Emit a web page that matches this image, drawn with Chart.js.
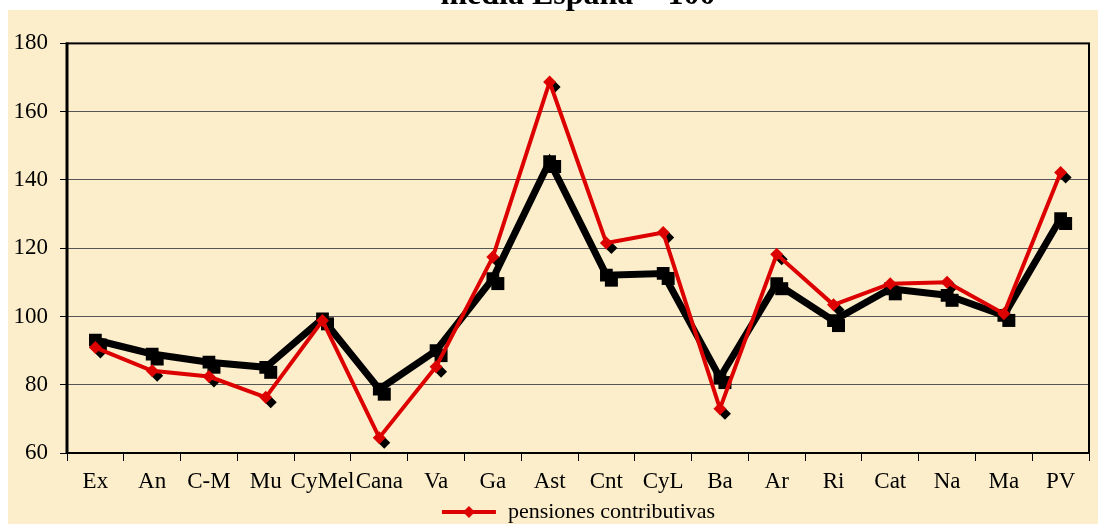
<!DOCTYPE html>
<html>
<head>
<meta charset="utf-8">
<script src="https://cdn.jsdelivr.net/npm/chart.js@4"></script>
<style>
    html, body { margin: 0; padding: 0; background: #fff; overflow: hidden; }
    #wrap { position: absolute; left: 0; top: -30px; width: 1098px; height: 563px; }
</style>
</head>
<body>
<div id="wrap"><canvas id="lineChart"></canvas></div>
<script>
// data (media España = 100)
const categories = ['Ex', 'An', 'C-M', 'Mu', 'CyMel', 'Cana', 'Va', 'Ga', 'Ast', 'Cnt', 'CyL', 'Ba', 'Ar', 'Ri', 'Cat', 'Na', 'Ma', 'PV'];
const pensionesContributivas = [90.9, 84.1, 82.4, 76.3, 98.8, 64.5, 85.3, 117.4, 168.7, 121.5, 124.6, 73.0, 118.2, 103.4, 109.6, 110.0, 100.8, 142.2];
const otraSerie = [93.1, 89.0, 86.6, 85.1, 99.3, 78.7, 90.0, 111.1, 145.4, 112.1, 112.6, 82.1, 109.6, 98.8, 108.1, 106.2, 100.3, 128.7];
const yTicks = [60, 80, 100, 120, 140, 160, 180];

const RED = '#DD0000';
const BEIGE = '#FCEECB';
const FONT = '"Liberation Serif", "Times New Roman", serif';

// legend symbol: line with a diamond in the middle
function legendSymbol() {
    let c = document.createElement('canvas');
    c.width = 56; c.height = 14;
    let g = c.getContext('2d');
    g.strokeStyle = RED; g.lineWidth = 4;
    g.beginPath(); g.moveTo(1, 7); g.lineTo(55, 7); g.stroke();
    g.fillStyle = RED;
    g.beginPath(); g.moveTo(28, 1); g.lineTo(34, 7); g.lineTo(28, 13); g.lineTo(22, 7); g.closePath(); g.fill();
    return c;
}

const background = {
    id: 'background',
    beforeDraw(chart) {
        let ctx = chart.ctx;
        ctx.save();
        ctx.fillStyle = '#fff';
        ctx.fillRect(0, 0, chart.width, chart.height);
        ctx.fillStyle = BEIGE;
        ctx.fillRect(8, 40, chart.width - 8, chart.height - 40);
        ctx.restore();
    }
};

// black drop shadows under the markers
const markerShadow = {
    id: 'markerShadow',
    beforeDatasetsDraw(chart) {
        let ctx = chart.ctx;
        ctx.save();
        ctx.fillStyle = '#000';
        chart.data.datasets.forEach((ds, i) => {
            let meta = chart.getDatasetMeta(i);
            meta.data.forEach(pt => {
                let x = pt.x + 5, y = pt.y + 5;
                ctx.beginPath();
                if (ds.pointStyle === 'rect') {
                    ctx.rect(x - 6.5, y - 6.5, 13, 13);
                } else {
                    ctx.moveTo(x, y - 6); ctx.lineTo(x + 6, y); ctx.lineTo(x, y + 6); ctx.lineTo(x - 6, y);
                    ctx.closePath();
                }
                ctx.fill();
            });
        });
        ctx.restore();
    }
};

const frame = {
    id: 'frame',
    afterDraw(chart) {
        let a = chart.chartArea, ctx = chart.ctx;
        ctx.save();
        ctx.strokeStyle = '#000';
        ctx.lineWidth = 2;
        ctx.strokeRect(a.left, a.top, a.right - a.left, a.bottom - a.top);
        ctx.lineWidth = 3;
        ctx.beginPath(); ctx.moveTo(a.left, a.top - 1); ctx.lineTo(a.left, a.bottom + 1); ctx.stroke();
        ctx.restore();
    }
};

document.addEventListener('DOMContentLoaded', function () {
    let ctx = document.getElementById('lineChart').getContext('2d');

    let lineChart = new Chart(ctx, {
        type: 'line',
        data: {
            labels: categories,
            datasets: [{
                label: 'pensiones contributivas',
                data: pensionesContributivas,
                borderColor: RED,
                backgroundColor: RED,
                borderWidth: 4,
                pointStyle: 'rectRot',
                pointRadius: 6.5,
                pointBorderWidth: 0,
                tension: 0
            }, {
                label: 'otra serie',
                data: otraSerie,
                borderColor: '#000',
                backgroundColor: '#000',
                borderWidth: 7,
                pointStyle: 'rect',
                pointRadius: 9,
                pointBorderWidth: 0,
                tension: 0
            }]
        },
        options: {
            responsive: true,
            maintainAspectRatio: false,
            animation: false,
            layout: { padding: { left: 0, right: 4, top: 0, bottom: 0 } },
            plugins: {
                title: {
                    display: true,
                    text: 'media España = 100',
                    fullSize: false,
                    color: '#000',
                    font: { family: FONT, size: 32, weight: 'bold' },
                    padding: { top: 7, bottom: 28 }
                },
                legend: {
                    position: 'bottom',
                    fullSize: false,
                    labels: {
                        color: '#000',
                        font: { family: FONT, size: 22 },
                        usePointStyle: true,
                        pointStyleWidth: 56,
                        padding: 2,
                        generateLabels(chart) {
                            return [{
                                text: 'pensiones contributivas',
                                pointStyle: legendSymbol(),
                                fillStyle: RED,
                                strokeStyle: RED,
                                lineWidth: 0,
                                datasetIndex: 0,
                                fontColor: '#000'
                            }];
                        }
                    }
                },
                tooltip: { enabled: false }
            },
            scales: {
                x: {
                    offset: true,
                    afterFit(scale) { scale.height = 46; },
                    grid: { offset: true, drawOnChartArea: false, tickLength: 8, tickColor: '#000', color: '#000' },
                    border: { display: false },
                    ticks: { color: '#000', font: { family: FONT, size: 23 }, autoSkip: false, maxRotation: 0, padding: 7 }
                },
                y: {
                    min: 60,
                    max: 180,
                    afterFit(scale) { scale.width = 67; },
                    afterBuildTicks(scale) { scale.ticks = yTicks.map(v => ({ value: v })); },
                    grid: { color: '#555', lineWidth: 1, tickLength: 7, tickColor: '#000' },
                    border: { display: false },
                    ticks: { color: '#000', font: { family: FONT, size: 23 }, padding: 12 }
                }
            }
        },
        plugins: [background, markerShadow, frame]
    });
});
</script>
</body>
</html>
